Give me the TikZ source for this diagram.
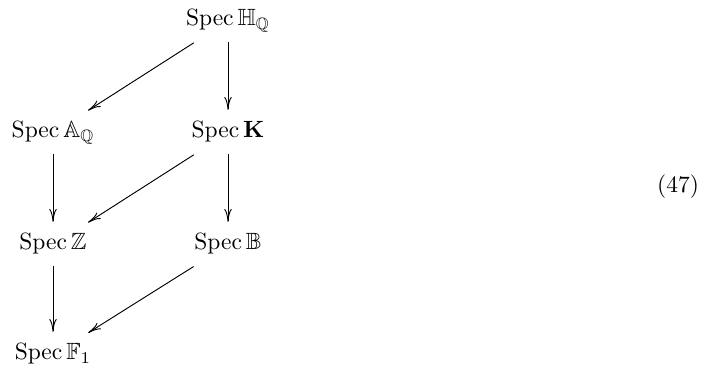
\documentclass[tikz,border=0pt]{standalone}
\usepackage{amsmath,amssymb}
\usetikzlibrary{arrows.meta}
\begin{document}
\begin{tikzpicture}[x=0.4255pt,y=-0.4255pt,
  lab/.style={anchor=base,inner sep=0pt},
  tip/.style={-{Computer Modern Rightarrow[length=5.5pt,width=3.2pt]}},
  vert/.style={tip,shorten <=9pt,shorten >=9.8pt},
  diag/.style={tip,shorten <=17.3pt,shorten >=17.7pt}]
\useasboundingbox (0,0) rectangle (709,366);
\node[lab] (h) at (228,26) {$\operatorname{Spec}\mathbb{H}_{\mathbb{Q}}$};
\node[lab] (a) at (53,138) {$\operatorname{Spec}\mathbb{A}_{\mathbb{Q}}$};
\node[lab] (k) at (228,138) {$\operatorname{Spec}\mathbf{K}$};
\node[lab] (z) at (53,250) {$\operatorname{Spec}\mathbb{Z}$};
\node[lab] (b) at (228,250) {$\operatorname{Spec}\mathbb{B}$};
\node[lab] (f) at (53,360) {$\operatorname{Spec}\mathbb{F}_1$};
\node[lab] (eq) at (678,193) {(47)};
\draw[diag] (h.mid) -- (a.mid);
\draw[vert] (h.mid) -- (k.mid);
\draw[vert] (a.mid) -- (z.mid);
\draw[diag] (k.mid) -- (z.mid);
\draw[vert] (k.mid) -- (b.mid);
\draw[vert] (z.mid) -- (f.mid);
\draw[diag] (b.mid) -- (f.mid);
\end{tikzpicture}
\end{document}
